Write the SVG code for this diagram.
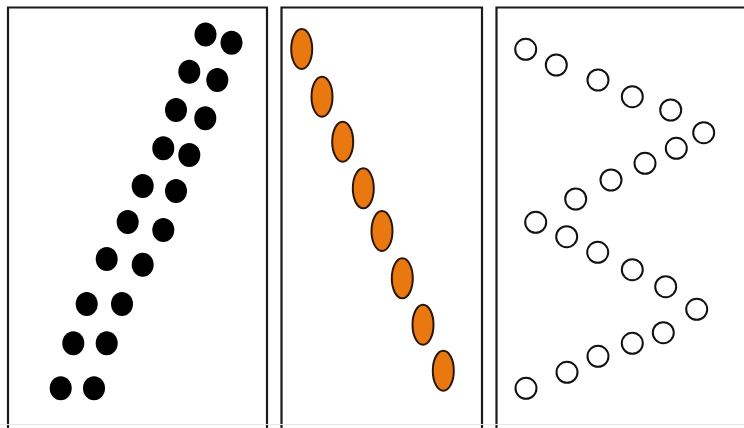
<svg xmlns="http://www.w3.org/2000/svg" width="744" height="428" viewBox="0 0 744 428">
<style>
.frame{fill:none;stroke:#1a1a1a;stroke-width:2.2}
.base{stroke:#e6e6e6;stroke-width:1}
.b{fill:#000}
.o{fill:#E8780F;stroke:#2a1608;stroke-width:2}
.w{fill:#fff;stroke:#111;stroke-width:2}
</style>
<rect width="744" height="428" fill="#fff"/>
<g id="panels">
<path class="frame" d="M8,430 V7.5 H267 V430"/>
<path class="frame" d="M281.5,430 V7.5 H482 V430"/>
<path class="frame" d="M496.5,430 V7.5 H746"/>
<line class="base" x1="0" y1="424.5" x2="744" y2="424.5"/>
</g>
<g id="black-dots">
<ellipse class="b" cx="205.5" cy="34.5" rx="11" ry="12"/>
<ellipse class="b" cx="231.5" cy="42.7" rx="11" ry="12"/>
<ellipse class="b" cx="189.3" cy="71.7" rx="11" ry="12"/>
<ellipse class="b" cx="217.3" cy="80" rx="11" ry="12"/>
<ellipse class="b" cx="176" cy="110" rx="11" ry="12"/>
<ellipse class="b" cx="205.3" cy="118.3" rx="11" ry="12"/>
<ellipse class="b" cx="163.3" cy="148.3" rx="11" ry="12"/>
<ellipse class="b" cx="189.3" cy="155" rx="11" ry="12"/>
<ellipse class="b" cx="142.7" cy="186" rx="11" ry="12"/>
<ellipse class="b" cx="176" cy="191" rx="11" ry="12"/>
<ellipse class="b" cx="127.7" cy="222" rx="11" ry="12"/>
<ellipse class="b" cx="163.3" cy="230" rx="11" ry="12"/>
<ellipse class="b" cx="106.7" cy="259" rx="11" ry="12"/>
<ellipse class="b" cx="142.7" cy="264.7" rx="11" ry="12"/>
<ellipse class="b" cx="86.7" cy="304" rx="11" ry="12"/>
<ellipse class="b" cx="122" cy="304" rx="11" ry="12"/>
<ellipse class="b" cx="73.3" cy="343.3" rx="11" ry="12"/>
<ellipse class="b" cx="106.7" cy="343.3" rx="11" ry="12"/>
<ellipse class="b" cx="60.7" cy="388.3" rx="11" ry="12"/>
<ellipse class="b" cx="94" cy="388.3" rx="11" ry="12"/>
</g>
<g id="orange-ellipses">
<ellipse class="o" cx="301.7" cy="49" rx="10.5" ry="20"/>
<ellipse class="o" cx="322" cy="96.7" rx="10.5" ry="20"/>
<ellipse class="o" cx="342.7" cy="141.7" rx="10.5" ry="20"/>
<ellipse class="o" cx="363.3" cy="188.3" rx="10.5" ry="20"/>
<ellipse class="o" cx="382" cy="231" rx="10.5" ry="20"/>
<ellipse class="o" cx="402.3" cy="278.3" rx="10.5" ry="20"/>
<ellipse class="o" cx="423" cy="324.7" rx="10.5" ry="20"/>
<ellipse class="o" cx="443.3" cy="370.7" rx="10.5" ry="20"/>
</g>
<g id="open-circles">
<circle class="w" cx="525.7" cy="49.3" r="10.5"/>
<circle class="w" cx="556.3" cy="65" r="10.5"/>
<circle class="w" cx="598" cy="80" r="10.5"/>
<circle class="w" cx="632.3" cy="96.7" r="10.5"/>
<circle class="w" cx="670.7" cy="110" r="10.5"/>
<circle class="w" cx="703.7" cy="132.7" r="10.5"/>
<circle class="w" cx="676.3" cy="148.3" r="10.5"/>
<circle class="w" cx="645" cy="163.3" r="10.5"/>
<circle class="w" cx="611" cy="180" r="10.5"/>
<circle class="w" cx="575.7" cy="199" r="10.5"/>
<circle class="w" cx="535.7" cy="222.3" r="10.5"/>
<circle class="w" cx="566.7" cy="236.7" r="10.5"/>
<circle class="w" cx="597.7" cy="252.3" r="10.5"/>
<circle class="w" cx="632.3" cy="269.7" r="10.5"/>
<circle class="w" cx="665.7" cy="286.7" r="10.5"/>
<circle class="w" cx="696.7" cy="309.3" r="10.5"/>
<circle class="w" cx="663.3" cy="332.7" r="10.5"/>
<circle class="w" cx="632.3" cy="343.3" r="10.5"/>
<circle class="w" cx="598" cy="356.3" r="10.5"/>
<circle class="w" cx="567" cy="372.3" r="10.5"/>
<circle class="w" cx="526" cy="388.3" r="10.5"/>
</g>
</svg>
